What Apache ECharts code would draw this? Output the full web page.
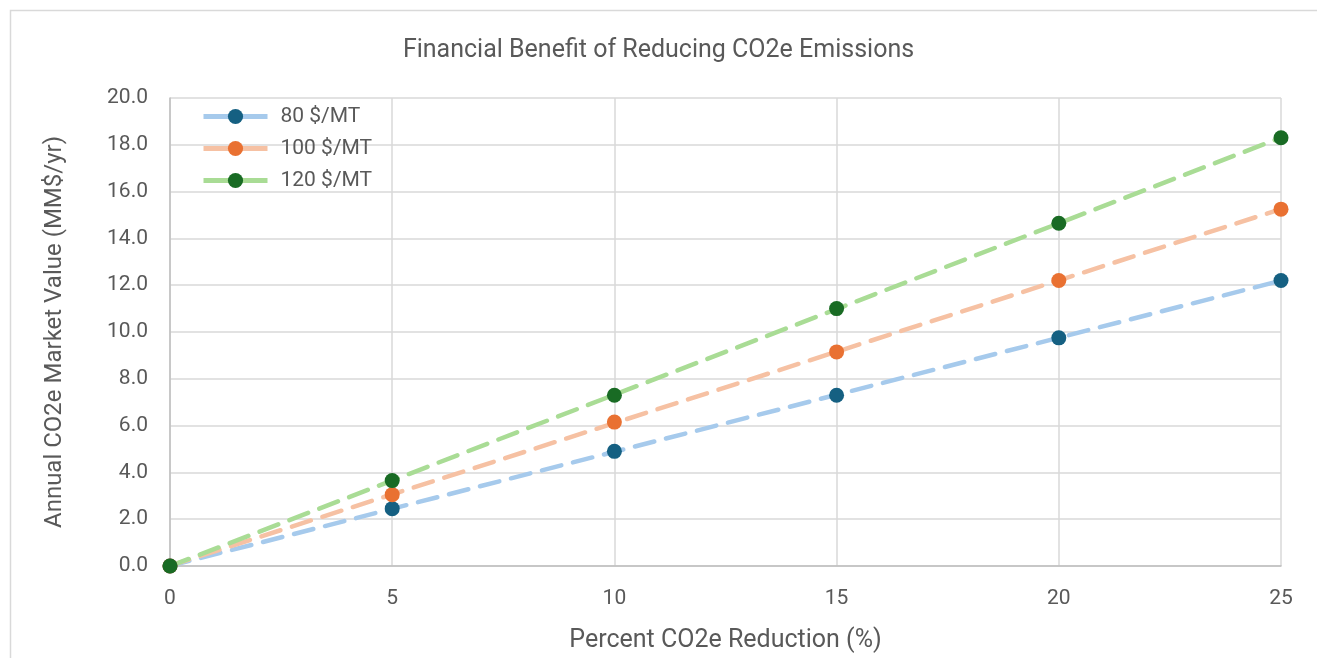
<!DOCTYPE html>
<html>
<head>
<meta charset="utf-8">
<script src="https://cdn.jsdelivr.net/npm/echarts@6/dist/echarts.min.js"></script>
<style>
    html, body { margin: 0; padding: 0; background: #fff; }
    #chart { width: 1317px; height: 658px; }
</style>
</head>
<body>
<div id="chart"></div>
<script>
// Data
const reductionPct = [0, 5, 10, 15, 20, 25];
const seriesNames = ['80 $/MT', '100 $/MT', '120 $/MT'];
const value80 = [0, 2.45, 4.9, 7.3, 9.75, 12.2];
const value100 = [0, 3.05, 6.15, 9.15, 12.2, 15.25];
const value120 = [0, 3.65, 7.3, 11.0, 14.65, 18.3];

const MARKER_COLORS = ['#156082', '#e97132', '#196b24'];
const TREND_COLORS = ['#a6caec', '#f6c1a3', '#a9dc95'];
const TEXT_COLOR = '#595959';
const FONT = 'Roboto, "Liberation Sans", sans-serif';

/* Linear least-squares trendline, drawn across the x range. */
function trendline(xs, ys) {
    let n = xs.length, sx = 0, sy = 0, sxx = 0, sxy = 0;
    for (let i = 0; i < n; i++) {
        sx += xs[i]; sy += ys[i];
        sxx += xs[i] * xs[i]; sxy += xs[i] * ys[i];
    }
    let slope = (n * sxy - sx * sy) / (n * sxx - sx * sx);
    let icpt = (sy - slope * sx) / n;
    let x0 = xs[0], x1 = xs[n - 1];
    return [[x0, icpt + slope * x0], [x1, icpt + slope * x1]];
}

let chart = echarts.init(document.getElementById('chart'));

let allValues = [value80, value100, value120];
let series = [];

allValues.forEach(function (vals, i) {
    series.push({
        name: 'trend' + i,
        type: 'line',
        data: trendline(reductionPct, vals),
        showSymbol: false,
        silent: true,
        z: 2,
        lineStyle: {
            color: TREND_COLORS[i],
            width: 4.5,
            type: [20, 12],
            cap: 'round'
        }
    });
});

allValues.forEach(function (vals, i) {
    series.push({
        name: seriesNames[i],
        type: 'line',
        data: reductionPct.map(function (x, j) { return [x, vals[j]]; }),
        symbol: 'circle',
        symbolSize: 15,
        z: 3,
        itemStyle: { color: MARKER_COLORS[i] },
        lineStyle: { opacity: 0 }
    });
});

let option = {
    animation: false,
    backgroundColor: '#fff',
    graphic: [{
        type: 'rect',
        shape: { x: 10.5, y: 10.5, width: 1400, height: 700 },
        style: { fill: 'none', stroke: '#d9d9d9', lineWidth: 1.5 },
        silent: true
    }],
    title: {
        text: 'Financial Benefit of Reducing CO2e Emissions',
        left: 'center',
        top: 33,
        textStyle: {
            color: TEXT_COLOR,
            fontFamily: FONT,
            fontSize: 25,
            fontWeight: 'normal'
        }
    },
    legend: {
        left: 196,
        top: 101,
        orient: 'vertical',
        itemWidth: 64,
        itemHeight: 19,
        itemGap: 11,
        textStyle: {
            color: TEXT_COLOR, fontFamily: FONT, fontSize: 21,
            lineHeight: 20, padding: [0, 0, 0, 8]
        },
        data: seriesNames.map(function (nm, i) {
            return {
                name: nm,
                lineStyle: { color: TREND_COLORS[i], width: 5, opacity: 1, type: 'solid' }
            };
        })
    },
    grid: {
        left: 170,
        right: 36,
        top: 98,
        bottom: 90
    },
    xAxis: {
        type: 'value',
        min: 0,
        max: 25,
        interval: 5,
        name: 'Percent CO2e Reduction (%)',
        nameLocation: 'middle',
        nameGap: 62,
        nameTextStyle: { color: TEXT_COLOR, fontFamily: FONT, fontSize: 25 },
        axisLine: { lineStyle: { color: '#bfbfbf', width: 1.5 } },
        axisTick: { show: false },
        axisLabel: { color: TEXT_COLOR, fontFamily: FONT, fontSize: 21, margin: 22 },
        splitLine: { show: true, lineStyle: { color: '#d9d9d9', width: 1.5 } }
    },
    yAxis: {
        type: 'value',
        min: 0,
        max: 20,
        interval: 2,
        name: 'Annual CO2e Market Value (MM$/yr)',
        nameLocation: 'middle',
        nameGap: 103,
        nameTextStyle: { color: TEXT_COLOR, fontFamily: FONT, fontSize: 24 },
        axisLine: { show: true, lineStyle: { color: '#bfbfbf', width: 1.5 } },
        axisTick: { show: false },
        axisLabel: {
            color: TEXT_COLOR, fontFamily: FONT, fontSize: 21, margin: 22,
            formatter: function (v) { return v.toFixed(1); }
        },
        splitLine: { show: true, lineStyle: { color: '#d9d9d9', width: 1.5 } }
    },
    series: series
};

chart.setOption(option);

window.addEventListener('resize', function () {
    chart.resize();
});
</script>
</body>
</html>
